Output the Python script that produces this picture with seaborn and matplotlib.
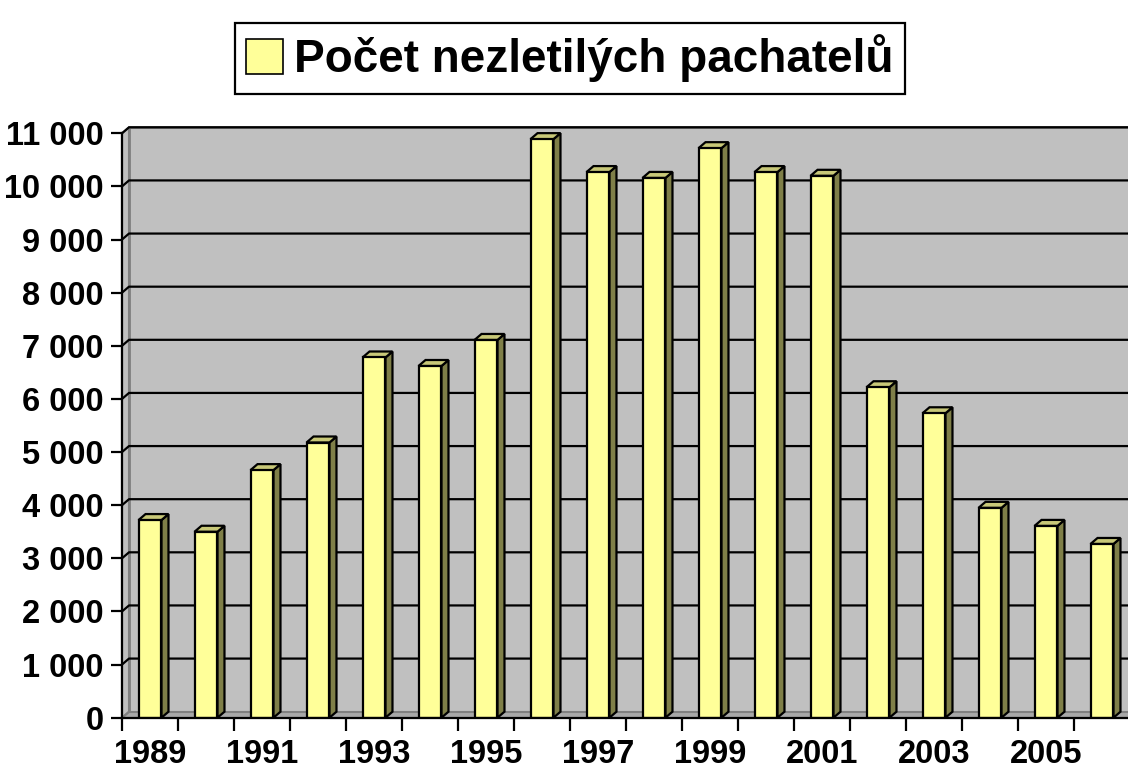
import matplotlib
matplotlib.use("Agg")
import matplotlib.pyplot as plt
from matplotlib.patches import Polygon, Patch, Rectangle
from matplotlib.ticker import FixedLocator, FuncFormatter
import seaborn as sns
import pandas as pd

years = [str(y) for y in range(1989, 2007)]
values = [3720, 3500, 4660, 5180, 6780, 6620, 7110, 10890, 10270, 10160,
          10720, 10270, 10200, 6220, 5730, 3950, 3610, 3270]
series_name = "Počet nezletilých pachatelů"
y_ticks = list(range(0, 12000, 1000))

plt.rcParams['font.family'] = ['Liberation Sans', 'DejaVu Sans']
plt.rcParams['font.weight'] = 'bold'

W, H = 1128, 771
fig = plt.figure(figsize=(W / 100, H / 100), dpi=100)
ax_left, ax_right = 122, 1130
ax_top, ax_bot = 133.3, 717.7
ax = fig.add_axes([ax_left / W, (H - ax_bot) / H, (ax_right - ax_left) / W, (ax_bot - ax_top) / H])

df = pd.DataFrame({"year": years, "value": values})
front = "#FFFF99"
side = "#7F7F48"
topc = "#C8C878"
sns.barplot(data=df, x="year", y="value", color=front, edgecolor="black",
            linewidth=1.6, width=0.41, saturation=1, ax=ax, zorder=3)

n = len(years)
ax.set_xlim(-0.5, n - 0.5)
ax.set_ylim(0, 11000)

# depth in data units
px_x = (ax_right - ax_left) / n
px_y = (ax_bot - ax_top) / 11000
dx = 7 / px_x
dy = 6 / px_y

wall_gray = "#C0C0C0"
edge_gray = "#808080"
ax.set_facecolor("white")
# back wall
ax.add_patch(Rectangle((-0.5 + dx, dy), n + 1, 11000, facecolor=wall_gray,
                       edgecolor=edge_gray, linewidth=2, zorder=0.2, clip_on=False))
# left side wall
ax.add_patch(Polygon([(-0.5, 0), (-0.5 + dx, dy), (-0.5 + dx, 11000 + dy), (-0.5, 11000)],
                     closed=True, facecolor=wall_gray, edgecolor=edge_gray, linewidth=1.5,
                     zorder=0.3, clip_on=False))
# floor
ax.add_patch(Polygon([(-0.5, 0), (n + 1, 0), (n + 1, dy), (-0.5 + dx, dy)],
                     closed=True, facecolor="#A8A8A8", edgecolor=edge_gray, linewidth=1.5,
                     zorder=0.4, clip_on=False))
# gridlines on back wall
for v in y_ticks[1:]:
    ax.plot([-0.5, -0.5 + dx, n + 1], [v, v + dy, v + dy], color="black",
            linewidth=1.6, zorder=0.6, clip_on=False, solid_capstyle="butt")

# 3D side and top faces from bar patches
for p in ax.patches[:]:
    if not isinstance(p, Rectangle) or p.get_facecolor()[:3] != matplotlib.colors.to_rgb(front):
        continue
    x0 = p.get_x()
    w = p.get_width()
    h = p.get_height()
    x1 = x0 + w
    ax.add_patch(Polygon([(x1, 0), (x1 + dx, dy), (x1 + dx, h + dy), (x1, h)], closed=True,
                         facecolor=side, edgecolor="black", linewidth=1.6, zorder=2.9,
                         clip_on=False))
    ax.add_patch(Polygon([(x0, h), (x0 + dx, h + dy), (x1 + dx, h + dy), (x1, h)], closed=True,
                         facecolor=topc, edgecolor="black", linewidth=1.6, zorder=2.9,
                         clip_on=False, joinstyle="miter"))

for s in ["top", "right"]:
    ax.spines[s].set_visible(False)
for s in ["left", "bottom"]:
    ax.spines[s].set_color("black")
    ax.spines[s].set_linewidth(1.6)
    ax.spines[s].set_zorder(5)

ax.set_yticks(y_ticks)
ax.yaxis.set_major_formatter(FuncFormatter(lambda v, pos: f"{int(v):,}".replace(",", " ")))
ax.tick_params(axis="y", length=8, width=1.6, color="black", labelsize=23.5, pad=5)

ax.set_xticks(list(range(0, n, 2)))
ax.set_xticklabels(years[::2])
ax.xaxis.set_minor_locator(FixedLocator([i - 0.5 for i in range(n + 1)]))
ax.tick_params(axis="x", which="major", length=0, labelsize=23.5, pad=15.5)
ax.tick_params(axis="x", which="minor", length=9, width=1.6, color="black")
for lbl in ax.get_xticklabels() + ax.get_yticklabels():
    lbl.set_fontweight("bold")
ax.set_xlabel("")
ax.set_ylabel("")

handle = Patch(facecolor=front, edgecolor="black", linewidth=1.2)
leg = fig.legend(handles=[handle], labels=[series_name], loc="center",
                 bbox_to_anchor=(570 / W, 1 - 58.5 / H), fancybox=False,
                 edgecolor="black", framealpha=1, prop={"size": 33, "weight": "bold"},
                 handlelength=0.8, handleheight=0.8, handletextpad=0.25,
                 borderpad=0.25, borderaxespad=0)
leg.get_frame().set_linewidth(1.6)

fig.savefig("out.png", dpi=100)
